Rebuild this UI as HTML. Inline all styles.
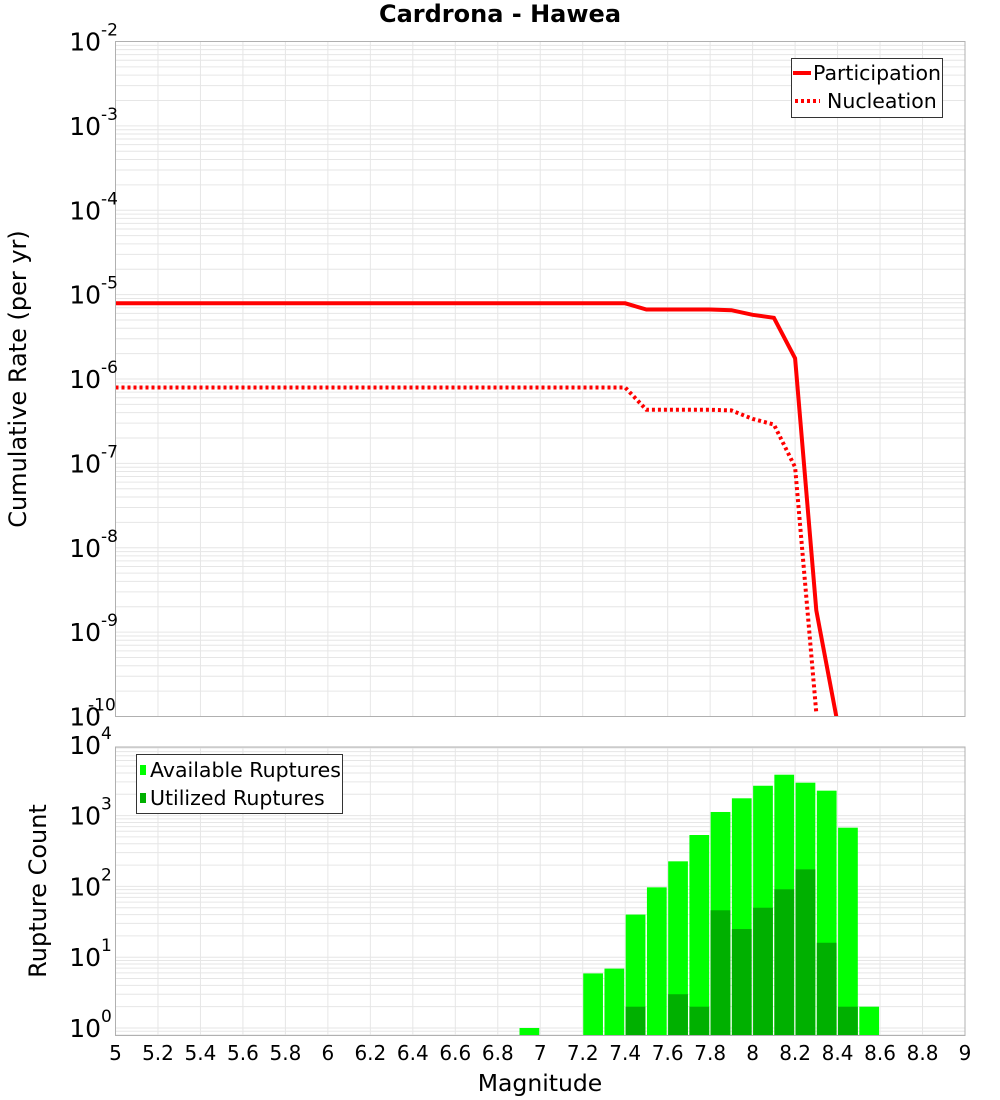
<!DOCTYPE html>
<html><head><meta charset="utf-8"><style>
body{margin:0;background:#fff;}
svg{display:block;font-family:"DejaVu Sans","Liberation Sans",sans-serif;}
</style></head><body>
<svg id="chart" width="1000" height="1100" viewBox="0 0 1000 1100"></svg>
<script>
const mags = [5.0,5.1,5.2,5.3,5.4,5.5,5.6,5.7,5.8,5.9,6.0,6.1,6.2,6.3,6.4,6.5,6.6,6.7,6.8,6.9,7.0,7.1,7.2,7.3,7.4,7.5,7.6,7.7,7.8,7.9,8.0,8.1,8.2,8.3,8.4];
const participation = [7.9e-6,7.9e-6,7.9e-6,7.9e-6,7.9e-6,7.9e-6,7.9e-6,7.9e-6,7.9e-6,7.9e-6,7.9e-6,7.9e-6,7.9e-6,7.9e-6,7.9e-6,7.9e-6,7.9e-6,7.9e-6,7.9e-6,7.9e-6,7.9e-6,7.9e-6,7.9e-6,7.9e-6,7.9e-6,6.67e-6,6.67e-6,6.67e-6,6.67e-6,6.53e-6,5.77e-6,5.31e-6,1.76e-6,1.81e-9,8.3e-11];
const nucleation = [7.94e-7,7.94e-7,7.94e-7,7.94e-7,7.94e-7,7.94e-7,7.94e-7,7.94e-7,7.94e-7,7.94e-7,7.94e-7,7.94e-7,7.94e-7,7.94e-7,7.94e-7,7.94e-7,7.94e-7,7.94e-7,7.94e-7,7.94e-7,7.94e-7,7.94e-7,7.94e-7,7.94e-7,7.94e-7,4.31e-7,4.31e-7,4.31e-7,4.31e-7,4.24e-7,3.37e-7,2.89e-7,9.0e-8,1.1e-10,null];
const binMags = [6.9,7.2,7.3,7.4,7.5,7.6,7.7,7.8,7.9,8.0,8.1,8.2,8.3,8.4,8.5];
const available = [1,5.9,6.9,40,97,226,532,1125,1755,2640,3780,2915,2250,675,2];
const utilized = [0,0,0,2,0,3,2,46,25,50,91,174,16,2,0];
const xTicks = ["5","5.2","5.4","5.6","5.8","6","6.2","6.4","6.6","6.8","7","7.2","7.4","7.6","7.8","8","8.2","8.4","8.6","8.8","9"];
const topExps = [-2,-3,-4,-5,-6,-7,-8,-9,-10];
const botExps = [4,3,2,1,0];

const svg = document.getElementById('chart');
const NS = 'http://www.w3.org/2000/svg';
function mk(tag, attrs, parent){const e=document.createElementNS(NS,tag);for(const k in attrs)e.setAttribute(k,attrs[k]);(parent||svg).appendChild(e);return e;}

const L=115.5,R=965;
const xs = m => L + (m-5)/4*(R-L);
const T1=41.5,B1=716.5;
const y1 = v => T1 + (-2 - Math.log10(v))*((B1-T1)/8);
const T2=747,B2=1035.5;
const DEC2=70.8, Y0=1028;
const y2 = v => Y0 - Math.log10(v)*DEC2;

let t=mk('text',{x:500,y:22,'text-anchor':'middle','font-size':24,'font-weight':'bold',fill:'#000'});
t.textContent='Cardrona - Hawea';



function grid(top,bot,ylog,expMin,expMax,name){
  const g=mk('g',{});
  
  
  for(let i=0;i<xTicks.length;i++){const x=xs(+xTicks[i]);mk('line',{x1:x,x2:x,y1:top,y2:bot,stroke:'#e6e6e6','stroke-width':1},g);}
  for(let e=expMin;e<expMax;e++){for(let k=1;k<10;k++){const y=ylog(k*Math.pow(10,e));if(y>=top&&y<=bot)mk('line',{x1:L,x2:R,y1:y,y2:y,stroke:'#e6e6e6','stroke-width':1},g);}}
}
grid(T1,B1,y1,-10,-2,'top-grid');
grid(T2,B2,y2,-1,4,'bottom-grid');

function line(vals,dash,name){
  let d='';let started=false;
  for(let i=0;i<mags.length;i++){if(vals[i]==null)continue;const x=xs(mags[i]),y=y1(vals[i]);d+=(started?'L':'M')+x.toFixed(1)+','+y.toFixed(1);started=true;}
  const p=mk('path',{d:d,fill:'none',stroke:'#ff0000','stroke-width':4,'stroke-dasharray':dash||'none','clip-path':'url(#c1)'});
  
  
}
const defs=mk('defs',{});
const cp=mk('clipPath',{id:'c1'},defs);mk('rect',{x:L,y:T1,width:R-L,height:B1-T1},cp);
line(participation,null,'participation-line');
line(nucleation,'3,3','nucleation-line');

const bw=xs(5.1)-xs(5);
for(let i=0;i<binMags.length;i++){
  const x=xs(binMags[i])+0.5;
  if(available[i]>0){const y=y2(available[i]);const r=mk('rect',{x:x,y:y,width:bw-1.5,height:B2-y,fill:'#00ff00'});
  
  }
  if(utilized[i]>0){const y=y2(utilized[i]);const r=mk('rect',{x:x,y:y,width:bw-1.5,height:B2-y,fill:'#00b000'});
  
  }
}

let f1=mk('rect',{x:L,y:T1,width:R-L,height:B1-T1,fill:'none',stroke:'#b0b0b0','stroke-width':1});

let f2=mk('rect',{x:L,y:T2,width:R-L,height:B2-T2,fill:'none',stroke:'#b0b0b0','stroke-width':1});


function ylab(e,y,name){
  const tx=mk('text',{x:101,y:y+9,'text-anchor':'end','font-size':25,fill:'#000'});
  tx.textContent='10';
  
  
  const s=String(e);
  const sp=mk('text',{x:s.length>2?88:101,y:y-6,'font-size':17,fill:'#000'});
  sp.textContent=s;
  
  
}
topExps.forEach(e=>ylab(e,y1(Math.pow(10,e)),'top-y-tick'));
botExps.forEach(e=>ylab(e,y2(Math.pow(10,e)),'bottom-y-tick'));

xTicks.forEach(s=>{const tx=mk('text',{x:xs(+s),y:1060,'text-anchor':'middle','font-size':20,fill:'#000'});tx.textContent=s;

});

let xt=mk('text',{x:540,y:1091,'text-anchor':'middle','font-size':23.5,fill:'#000'});xt.textContent='Magnitude';

let yt1=mk('text',{x:0,y:0,'text-anchor':'middle','font-size':24,fill:'#000',transform:'translate(26,379) rotate(-90)'});yt1.textContent='Cumulative Rate (per yr)';

let yt2=mk('text',{x:0,y:0,'text-anchor':'middle','font-size':24,fill:'#000',transform:'translate(46,891) rotate(-90)'});yt2.textContent='Rupture Count';


let lg1=mk('g',{});
mk('rect',{x:791.5,y:58.5,width:151,height:59,fill:'#fff',stroke:'#333','stroke-width':1},lg1);
mk('line',{x1:793,x2:811,y1:73,y2:73,stroke:'#ff0000','stroke-width':4},lg1);
mk('line',{x1:795,x2:820,y1:101,y2:101,stroke:'#ff0000','stroke-width':4,'stroke-dasharray':'3,3'},lg1);
let a=mk('text',{x:813,y:80,'font-size':20.5,fill:'#000'},lg1);a.textContent='Participation';

let b=mk('text',{x:827,y:108,'font-size':20.5,fill:'#000'},lg1);b.textContent='Nucleation';


let lg2=mk('g',{});
mk('rect',{x:136.5,y:754.5,width:206,height:59,fill:'#fff',stroke:'#333','stroke-width':1},lg2);
mk('rect',{x:140,y:765,width:6,height:10,fill:'#00ff00'},lg2);
mk('rect',{x:140,y:793,width:6,height:10,fill:'#00b000'},lg2);
let c=mk('text',{x:150,y:777,'font-size':20.5,fill:'#000'},lg2);c.textContent='Available Ruptures';

let d=mk('text',{x:150,y:805,'font-size':20.5,fill:'#000'},lg2);d.textContent='Utilized Ruptures';

</script>
</body></html>
